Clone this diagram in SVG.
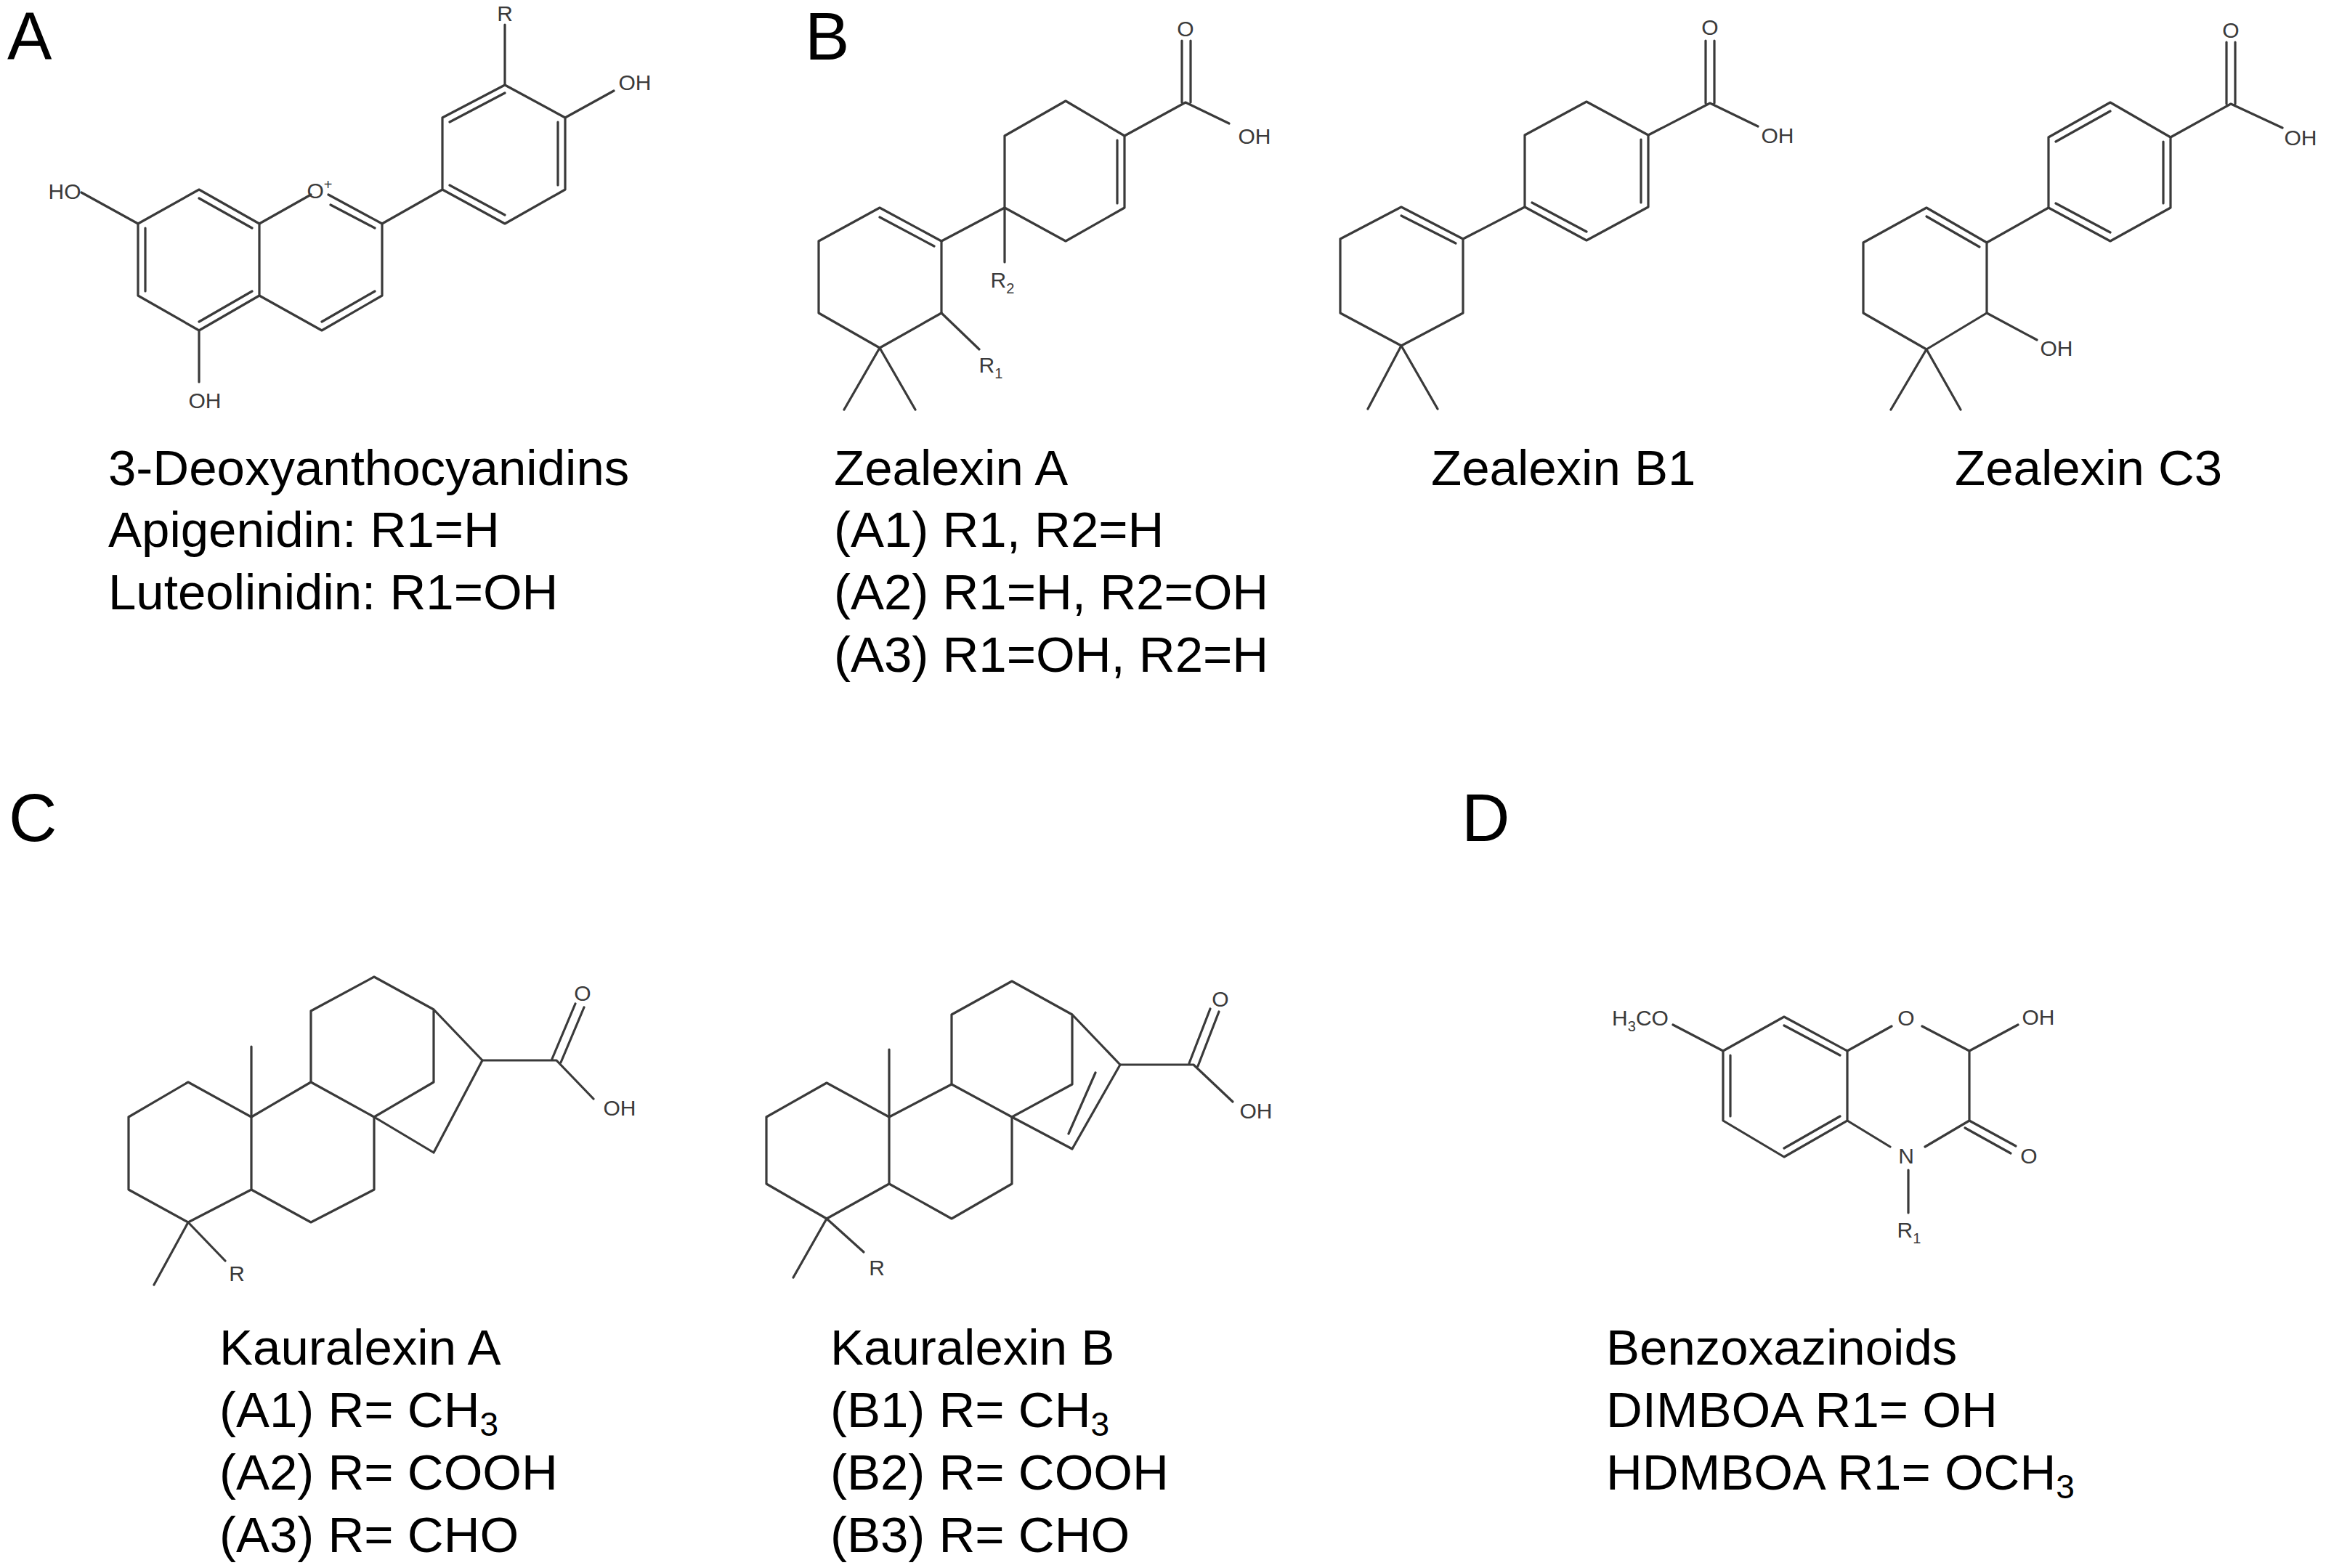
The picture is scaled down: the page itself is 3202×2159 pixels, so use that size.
<svg xmlns="http://www.w3.org/2000/svg" width="3202" height="2159" viewBox="0 0 3202 2159">
<style>
.b{stroke:#3a3a3a;stroke-width:3.2;fill:none;stroke-linecap:round;stroke-linejoin:round}
.at{font-family:"Liberation Sans",Arial,sans-serif;font-size:30px;fill:#3a3a3a;text-anchor:middle}
.lab{font-family:"Liberation Sans",Arial,sans-serif;font-size:69px;fill:#000}
.pan{font-family:"Liberation Sans",Arial,sans-serif;font-size:92px;fill:#000}
.sub{font-size:46px}
.as{font-size:20px}
</style>
<rect width="3202" height="2159" fill="#fff"/>
<text class="pan" x="10" y="82">A</text>
<text class="pan" x="1108" y="82">B</text>
<text class="pan" x="12" y="1158">C</text>
<text class="pan" x="2012" y="1158">D</text>

<g id="deoxyanthocyanidin">
<path class="b" d="M190,308 L274,261 L357,308 L357,407 L274,455 L190,407 Z M274,273 L347,314 M200,401 L200,314 M347,401 L274,443"/>
<path class="b" d="M357,308 L428,268 M452,268 L526,308 L526,407 L443,455 L357,407 M455,282 L516,314 M516,401 L443,443"/>
<path class="b" d="M526,308 L609,261 M609,261 L609,162 L695,117 L778,162 L778,261 L695,308 Z M619,168 L695,128 M768,168 L768,255 M695,296 L619,255"/>
<path class="b" d="M190,308 L112,265 M274,455 L274,526 M695,117 L695,34 M778,162 L845,125"/>
<text class="at" x="89" y="274">HO</text>
<text class="at" x="440" y="273">O<tspan class="as" dy="-12">+</tspan></text>
<text class="at" x="282" y="562">OH</text>
<text class="at" x="695" y="29">R</text>
<text class="at" x="874" y="124">OH</text>
<text class="lab" x="149" y="668">3-Deoxyanthocyanidins</text>
<text class="lab" x="149" y="753">Apigenidin: R1=H</text>
<text class="lab" x="149" y="839">Luteolinidin: R1=OH</text>
</g>

<g id="zealexinA">
<path class="b" d="M1548,187 L1467,139 L1383,187 L1383,286 L1467,332 L1548,286 Z M1538,193 L1538,280"/>
<path class="b" d="M1296,332 L1211,286 L1127,332 L1127,431 L1211,479 L1296,431 Z M1286,339 L1211,299"/>
<path class="b" d="M1296,332 L1383,286 M1383,286 L1383,361 M1296,431 L1348,481 M1211,479 L1162,564 M1211,479 L1260,564"/>
<path class="b" d="M1548,187 L1632,141 L1692,170 M1627,141 L1627,56 M1639,141 L1639,56"/>
<text class="at" x="1632" y="50">O</text>
<text class="at" x="1727" y="198">OH</text>
<text class="at" x="1380" y="396">R<tspan class="as" dy="8">2</tspan></text>
<text class="at" x="1364" y="513">R<tspan class="as" dy="8">1</tspan></text>
<text class="lab" x="1148" y="668">Zealexin A</text>
<text class="lab" x="1148" y="753">(A1) R1, R2=H</text>
<text class="lab" x="1148" y="839">(A2) R1=H, R2=OH</text>
<text class="lab" x="1148" y="925">(A3) R1=OH, R2=H</text>
</g>

<g id="zealexinB1">
<path class="b" d="M2014,329 L1929,285 L1845,329 L1845,431 L1929,476 L2014,431 Z M1929,297 L2004,335"/>
<path class="b" d="M2099,285 L2099,186 L2184,140 L2269,186 L2269,285 L2184,331 Z M2109,279 L2184,319 M2259,192 L2259,279"/>
<path class="b" d="M2014,329 L2099,285 M1929,476 L1883,563 M1929,476 L1979,563"/>
<path class="b" d="M2269,186 L2354,142 L2420,174 M2348,142 L2348,56 M2360,142 L2360,56"/>
<text class="at" x="2354" y="48">O</text>
<text class="at" x="2447" y="197">OH</text>
<text class="lab" x="1970" y="668">Zealexin B1</text>
</g>

<g id="zealexinC3">
<path class="b" d="M2988,189 L2905,141 L2820,189 L2820,286 L2905,332 L2988,286 Z M2905,153 L2830,195 M2830,280 L2905,320 M2978,195 L2978,280"/>
<path class="b" d="M2735,334 L2652,286 L2565,334 L2565,431 L2652,481 L2735,431 Z M2725,340 L2652,298"/>
<path class="b" d="M2735,334 L2820,286 M2735,431 L2804,468 M2652,481 L2603,564 M2652,481 L2699,564"/>
<path class="b" d="M2988,189 L3071,143 L3142,176 M3065,143 L3065,58 M3077,143 L3077,58"/>
<text class="at" x="3071" y="52">O</text>
<text class="at" x="3167" y="200">OH</text>
<text class="at" x="2831" y="490">OH</text>
<text class="lab" x="2691" y="668">Zealexin C3</text>
</g>

<g id="kauralexinA">
<path class="b" d="M259,1490 L177,1538 L177,1638 L259,1683 L346,1638 L346,1538 Z"/>
<path class="b" d="M346,1538 L428,1490 L515,1538 L515,1638 L428,1683 L346,1638 M346,1538 L346,1441"/>
<path class="b" d="M428,1490 L428,1392 L515,1345 L597,1390 L597,1490 L515,1538 M597,1390 L664,1460 L597,1587 L515,1538"/>
<path class="b" d="M664,1460 L766,1460 L817,1513 M760,1458 L792,1382 M772,1463 L804,1387"/>
<path class="b" d="M259,1683 L212,1769 M259,1683 L310,1736"/>
<text class="at" x="802" y="1378">O</text>
<text class="at" x="853" y="1536">OH</text>
<text class="at" x="326" y="1764">R</text>
<text class="lab" x="302" y="1879">Kauralexin A</text>
<text class="lab" x="302" y="1965">(A1) R= CH<tspan class="sub" dy="12">3</tspan></text>
<text class="lab" x="302" y="2051">(A2) R= COOH</text>
<text class="lab" x="302" y="2137">(A3) R= CHO</text>
</g>

<g id="kauralexinB">
<path class="b" d="M1138,1491 L1055,1538 L1055,1630 L1138,1678 L1224,1630 L1224,1538 Z"/>
<path class="b" d="M1224,1538 L1310,1493 L1393,1538 L1393,1630 L1310,1678 L1224,1630 M1224,1538 L1224,1445"/>
<path class="b" d="M1310,1493 L1310,1397 L1393,1351 L1476,1397 L1476,1493 L1393,1538 M1476,1397 L1542,1466 L1476,1582 L1393,1538 M1508,1477 L1471,1561"/>
<path class="b" d="M1542,1466 L1643,1466 L1697,1517 M1637,1464 L1666,1389 M1649,1468 L1678,1393"/>
<path class="b" d="M1138,1678 L1092,1759 M1138,1678 L1189,1724"/>
<text class="at" x="1680" y="1386">O</text>
<text class="at" x="1729" y="1540">OH</text>
<text class="at" x="1207" y="1756">R</text>
<text class="lab" x="1143" y="1879">Kauralexin B</text>
<text class="lab" x="1143" y="1965">(B1) R= CH<tspan class="sub" dy="12">3</tspan></text>
<text class="lab" x="1143" y="2051">(B2) R= COOH</text>
<text class="lab" x="1143" y="2137">(B3) R= CHO</text>
</g>

<g id="benzoxazinoids">
<path class="b" d="M2372,1447 L2456,1400 L2543,1447 L2543,1543 L2456,1593 L2372,1543 Z M2456,1412 L2533,1453 M2382,1537 L2382,1453 M2533,1537 L2456,1581"/>
<path class="b" d="M2303,1411 L2372,1447 M2543,1447 L2604,1413 M2646,1413 L2711,1447 L2711,1543 L2650,1579 M2543,1543 L2602,1579 M2711,1447 L2778,1411 M2627,1611 L2627,1670"/>
<path class="b" d="M2711,1543 L2775,1578 M2705,1553 L2768,1588"/>
<text class="at" x="2258" y="1412">H<tspan class="as" dy="8">3</tspan><tspan dy="-8">CO</tspan></text>
<text class="at" x="2624" y="1412">O</text>
<text class="at" x="2806" y="1411">OH</text>
<text class="at" x="2793" y="1602">O</text>
<text class="at" x="2624" y="1602">N</text>
<text class="at" x="2628" y="1704">R<tspan class="as" dy="8">1</tspan></text>
<text class="lab" x="2211" y="1879">Benzoxazinoids</text>
<text class="lab" x="2211" y="1965">DIMBOA R1= OH</text>
<text class="lab" x="2211" y="2051">HDMBOA R1= OCH<tspan class="sub" dy="12">3</tspan></text>
</g>
</svg>
